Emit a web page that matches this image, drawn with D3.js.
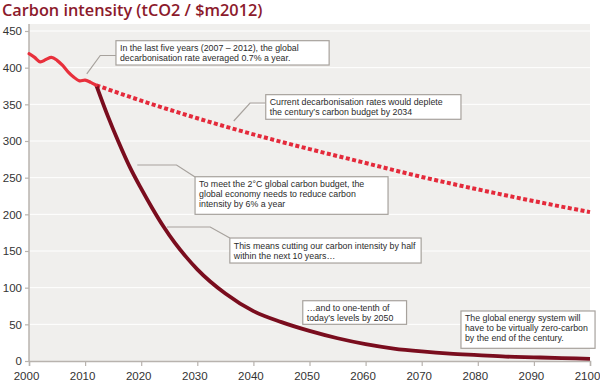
<!DOCTYPE html>
<meta charset="utf-8">
<style>
  body { margin: 0; background: #fff; }
  text { font-family: "Liberation Sans", Arial, sans-serif; fill: #333; }
  .note text { font-size: 9.8px; fill: #2b2b2b; }
</style>
<svg width="600" height="389"></svg>
<script src="https://d3js.org/d3.v7.min.js"></script>
<script>

var yTicks = [0, 50, 100, 150, 200, 250, 300, 350, 400, 450];
var xTicks = [2000, 2010, 2020, 2030, 2040, 2050, 2060, 2070, 2080, 2090, 2100];

// historical intensity 2000-2012
var histYears = [2000, 2001, 2002, 2003, 2004, 2005, 2006, 2007, 2008, 2009, 2010, 2011, 2012];
var histValues = [419, 414, 408, 411, 414, 410, 403, 394, 387, 382, 383, 380, 376];

// current decarbonisation rate
var currentYears = [2012, 2020, 2030, 2040, 2050, 2060, 2070, 2080, 2090, 2100];
var currentValues = [376, 355, 331, 309, 289, 270, 251, 234, 218, 203];

// 2C budget path
var budgetYears = [2012, 2014, 2016, 2018, 2020, 2022, 2024, 2026, 2028, 2030, 2035, 2040, 2045, 2050, 2055, 2060, 2065, 2070, 2075, 2080, 2085, 2090, 2095, 2100];
var budgetValues = [376, 335, 298, 264, 235, 208, 183, 161, 142, 125, 92, 68, 53, 41, 31, 23, 17, 13, 10, 8, 6, 5, 4, 3];

var notes = [
  {lines: ["In the last five years (2007 \u2013 2012), the global", "decarbonisation rate averaged 0.7% a year."],
   box: [2015.5, 436.8, 2053.5, 403.6], leader: [[2015.5, 416.6], [2012.7, 416.6], [2010.3, 391.4]]},
  {lines: ["Current decarbonisation rates would deplete", "the century\u2019s carbon budget by 2034"],
   box: [2042.2, 363.2, 2077.0, 329.6], leader: [[2042.2, 351.8], [2039.4, 351.8], [2036.5, 327.3]]},
  {lines: ["To meet the 2\u00b0C global carbon budget, the", "global economy needs to reduce carbon", "intensity by 6% a year"],
   box: [2029.6, 251.3, 2064.0, 200], leader: [[2019.3, 267.3], [2026.3, 267.3], [2029.6, 250.9]]},
  {lines: ["This means cutting our carbon intensity by half", "within the next 10 years\u2026"],
   box: [2035.8, 167.7, 2069.9, 133.6], leader: [[2024.6, 182.7], [2032.3, 182.7], [2035.8, 167.7]]},
  {lines: ["\u2026and to one-tenth of", "today\u2019s levels by 2050"],
   box: [2048.8, 82.2, 2067.3, 50], leader: null},
  {lines: ["The global energy system will", "have to be virtually zero-carbon", "by the end of the century."],
   box: [2077.0, 68.2, 2100.9, 17.3], leader: null}
];

var svg = d3.select("svg");

var x = d3.scaleLinear().domain([2000, 2100]).range([29, 590]);
var y = d3.scaleLinear().domain([0, 450]).range([361, 31]);

svg.append("text")
    .attr("x", 2)
    .attr("y", 15.5)
    .style("font-family", "'Open Sans', Lato, sans-serif")
    .style("font-weight", 600)
    .style("font-size", "16.3px")
    .style("fill", "#8c1a2c")
    .text("Carbon intensity (tCO2 / $m2012)");

svg.append("rect")
    .attr("x", x(2000))
    .attr("y", 24)
    .attr("width", x(2100) - x(2000))
    .attr("height", y(0) - 24)
    .attr("fill", "#f0efed");

svg.append("g")
  .selectAll("line")
  .data(yTicks.slice(1))
  .enter().append("line")
    .attr("x1", x(2000))
    .attr("x2", x(2100))
    .attr("y1", function(d) { return y(d); })
    .attr("y2", function(d) { return y(d); })
    .attr("stroke", "#fff")
    .attr("stroke-width", 1);

var yAxis = svg.append("g")
    .attr("transform", "translate(" + x(2000) + ",0)")
    .call(d3.axisLeft(y).tickValues(yTicks).tickSize(4).tickPadding(3));

var xAxis = svg.append("g")
    .attr("transform", "translate(0," + y(0) + ")")
    .call(d3.axisBottom(x).tickValues(xTicks).tickSize(5).tickPadding(6).tickFormat(d3.format("d")));

[yAxis, xAxis].forEach(function(g) {
  g.select(".domain").attr("stroke", "#b8b3ae").attr("stroke-width", 1.5);
  g.selectAll(".tick line").attr("stroke", "#b8b3ae").attr("stroke-width", 1.2);
  g.selectAll(".tick text")
      .style("font-family", "'Liberation Sans', Arial, sans-serif")
      .style("font-size", "11.5px")
      .attr("fill", "#333");
});
yAxis.select(".domain").attr("d", "M0," + 24 + "V" + y(0));
xAxis.selectAll(".tick text").attr("dx", -3);

// leaders and boxes
var note = svg.append("g").attr("class", "note")
  .selectAll("g")
  .data(notes)
  .enter().append("g");

note.filter(function(d) { return d.leader; })
  .append("path")
    .attr("fill", "none")
    .attr("stroke", "#a7a29d")
    .attr("stroke-width", 1.2)
    .attr("d", function(d) {
      return d3.line().x(function(p) { return x(p[0]); }).y(function(p) { return y(p[1]); })(d.leader);
    });

var line = d3.line()
    .x(function(d) { return x(d[0]); })
    .y(function(d) { return y(d[1]); });

svg.append("path")
    .datum(d3.zip(currentYears, currentValues))
    .attr("fill", "none")
    .attr("stroke", "#e42a3b")
    .attr("stroke-width", 4)
    .attr("stroke-dasharray", "4,2.5")
    .attr("d", line.curve(d3.curveMonotoneX));

svg.append("path")
    .datum(d3.zip(budgetYears, budgetValues))
    .attr("fill", "none")
    .attr("stroke", "#7a0d1e")
    .attr("stroke-width", 3.8)
    .attr("stroke-linejoin", "round")
    .attr("d", line.curve(d3.curveMonotoneX));

svg.append("path")
    .datum(d3.zip(histYears, histValues))
    .attr("fill", "none")
    .attr("stroke", "#e8303c")
    .attr("stroke-width", 3.2)
    .attr("stroke-linecap", "round")
    .attr("d", line.curve(d3.curveCatmullRom));

note.append("rect")
    .attr("x", function(d) { return x(d.box[0]); })
    .attr("y", function(d) { return y(d.box[1]); })
    .attr("width", function(d) { return x(d.box[2]) - x(d.box[0]); })
    .attr("height", function(d) { return y(d.box[3]) - y(d.box[1]); })
    .attr("fill", "#fff")
    .attr("stroke", "#a7a29d")
    .attr("stroke-width", 1.2);

// text is narrower in the original, squeeze it horizontally
note.each(function(d) {
  var x0 = x(d.box[0]) + 4;
  var t = d3.select(this).append("text")
      .attr("transform", "translate(" + x0 + "," + (y(d.box[1]) + 10.5) + ") scale(0.9,1)");
  d.lines.forEach(function(s, i) {
    t.append("tspan")
        .attr("x", 0)
        .attr("y", i * 10)
        .text(s);
  });
});

</script>
